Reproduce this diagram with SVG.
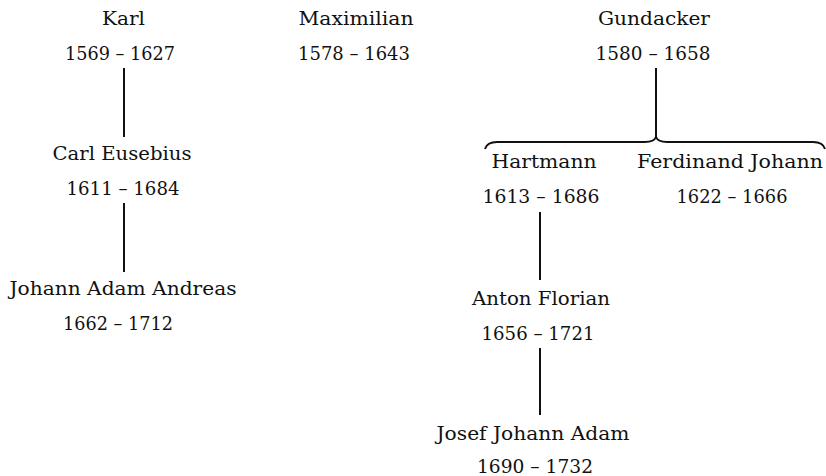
<svg xmlns="http://www.w3.org/2000/svg" width="826" height="476" viewBox="0 0 826 476">
<style>
text{font-family:"DejaVu Serif","Liberation Serif",serif;font-size:18px;fill:#111;text-anchor:middle}
.c{stroke:#111;stroke-width:2;fill:none}
</style>
<rect width="826" height="476" fill="#fff"/>
<g id="connectors">
<line class="c" x1="124" y1="68" x2="124" y2="137"/>
<line class="c" x1="124" y1="203" x2="124" y2="272"/>
<line class="c" x1="656" y1="68" x2="656" y2="138"/>
<path class="c" d="M485,149 Q487,142 497,142 L645,142 Q654,142 656,137 Q658,142 667,142 L813,142 Q823,142 825,149"/>
<line class="c" x1="540" y1="212" x2="540" y2="280"/>
<line class="c" x1="540" y1="348" x2="540" y2="415"/>
</g>
<g id="karl"><text x="123.5" y="25" textLength="43" lengthAdjust="spacingAndGlyphs">Karl</text><text x="120" y="60" textLength="110" lengthAdjust="spacingAndGlyphs">1569 – 1627</text></g>
<g id="maximilian"><text x="356" y="25" textLength="115" lengthAdjust="spacingAndGlyphs">Maximilian</text><text x="354" y="60" textLength="112" lengthAdjust="spacingAndGlyphs">1578 – 1643</text></g>
<g id="gundacker"><text x="654" y="25" textLength="112" lengthAdjust="spacingAndGlyphs">Gundacker</text><text x="653" y="60" textLength="115" lengthAdjust="spacingAndGlyphs">1580 – 1658</text></g>
<g id="carl-eusebius"><text x="122" y="160" textLength="139" lengthAdjust="spacingAndGlyphs">Carl Eusebius</text><text x="123" y="195" textLength="113" lengthAdjust="spacingAndGlyphs">1611 – 1684</text></g>
<g id="johann-adam-andreas"><text x="123" y="295" textLength="227" lengthAdjust="spacingAndGlyphs">Johann Adam Andreas</text><text x="118" y="330" textLength="110" lengthAdjust="spacingAndGlyphs">1662 – 1712</text></g>
<g id="hartmann"><text x="544" y="168" textLength="105" lengthAdjust="spacingAndGlyphs">Hartmann</text><text x="541" y="203" textLength="117" lengthAdjust="spacingAndGlyphs">1613 – 1686</text></g>
<g id="ferdinand-johann"><text x="730" y="168" textLength="186" lengthAdjust="spacingAndGlyphs">Ferdinand Johann</text><text x="732" y="203" textLength="111" lengthAdjust="spacingAndGlyphs">1622 – 1666</text></g>
<g id="anton-florian"><text x="541" y="305" textLength="138" lengthAdjust="spacingAndGlyphs">Anton Florian</text><text x="538" y="340" textLength="113" lengthAdjust="spacingAndGlyphs">1656 – 1721</text></g>
<g id="josef-johann-adam"><text x="533" y="440" textLength="193" lengthAdjust="spacingAndGlyphs">Josef Johann Adam</text><text x="535" y="473" textLength="116" lengthAdjust="spacingAndGlyphs">1690 – 1732</text></g>
</svg>
